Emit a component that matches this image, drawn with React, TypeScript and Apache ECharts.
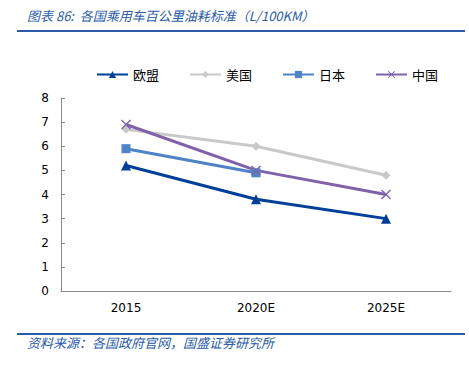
import React, { useEffect, useRef } from "react";
import * as echarts from "echarts";

const categories = ["2015", "2020E", "2025E"];
const euValues = [5.2, 3.8, 3.0];
const usValues = [6.7, 6.0, 4.8];
const jpValues = [5.9, 4.9, null];
const cnValues = [6.9, 5.0, 4.0];
const seriesNames = ["欧盟", "美国", "日本", "中国"];
const yTicks = [0, 1, 2, 3, 4, 5, 6, 7, 8];

const crossPath =
  "path://M1,0 L5,4 L9,0 L10,1 L6,5 L10,9 L9,10 L5,6 L1,10 L0,9 L4,5 L0,1 Z";

export default function App() {
  const ref = useRef<HTMLDivElement>(null);
  useEffect(() => {
    if (!ref.current) return;
    const chart = echarts.init(ref.current, null, { renderer: "svg" });
    const axisFont = "'DejaVu Sans', Verdana, sans-serif";
    const cjk = "'Noto Sans CJK SC', sans-serif";
    const mk = (name: string, data: (number | null)[], color: string, symbol: string, size: number) => ({
      name,
      type: "line",
      data,
      symbol,
      symbolSize: size,
      showAllSymbol: true,
      lineStyle: { color, width: 3 },
      itemStyle: { color },
      connectNulls: false,
      z: 2,
    });
    chart.setOption({
      animation: false,
      backgroundColor: "#fff",
      textStyle: { fontFamily: axisFont },
      legend: {
        top: 63,
        left: 91,
        itemWidth: 31,
        itemHeight: 9,
        itemGap: 30,
        textStyle: { fontFamily: cjk, fontSize: 13, color: "#000" },
        data: seriesNames,
      },
      grid: { left: 61, right: 18, top: 98, bottom: 76, containLabel: false },
      xAxis: {
        type: "category",
        data: categories,
        boundaryGap: true,
        axisLine: { lineStyle: { color: "#898989", width: 1 } },
        axisTick: { inside: true, length: 4, lineStyle: { color: "#898989" } },
        axisLabel: { color: "#000", fontSize: 12, fontFamily: axisFont, margin: 11 },
        splitLine: { show: false },
      },
      yAxis: {
        type: "value",
        min: yTicks[0],
        max: yTicks[yTicks.length - 1],
        interval: 1,
        axisLine: { show: true, lineStyle: { color: "#898989", width: 1 } },
        axisTick: { show: true, inside: true, length: 4, lineStyle: { color: "#898989" } },
        axisLabel: { color: "#000", fontSize: 12, fontFamily: axisFont, margin: 12 },
        splitLine: { show: false },
      },
      series: [
        mk(seriesNames[0], euValues, "#003F98", "triangle", 10),
        mk(seriesNames[1], usValues, "#C9C9C9", "diamond", 9),
        mk(seriesNames[2], jpValues, "#4F83C8", "rect", 9),
        mk(seriesNames[3], cnValues, "#7F62A9", crossPath, 10),
      ],
      graphic: [
        {
          type: "text",
          left: 27,
          top: 9,
          style: {
            text: "图表 86:  各国乘用车百公里油耗标准（L/100KM）",
            fill: "#2A5CA8",
            font: "italic 13px 'Noto Sans CJK SC', sans-serif",
          },
        },
        {
          type: "line",
          shape: { x1: 17, y1: 31, x2: 465, y2: 31 },
          style: { stroke: "#2A5CA8", lineWidth: 2 },
        },
        {
          type: "line",
          shape: { x1: 17, y1: 334, x2: 465, y2: 334 },
          style: { stroke: "#2A5CA8", lineWidth: 2 },
        },
        {
          type: "text",
          left: 27,
          top: 336,
          style: {
            text: "资料来源：各国政府官网，国盛证券研究所",
            fill: "#2A5CA8",
            font: "italic 13px 'Noto Sans CJK SC', sans-serif",
          },
        },
      ],
    });
    return () => chart.dispose();
  }, []);
  return <div ref={ref} style={{ width: 469, height: 367, position: "absolute", left: 0, top: 0 }} />;
}
